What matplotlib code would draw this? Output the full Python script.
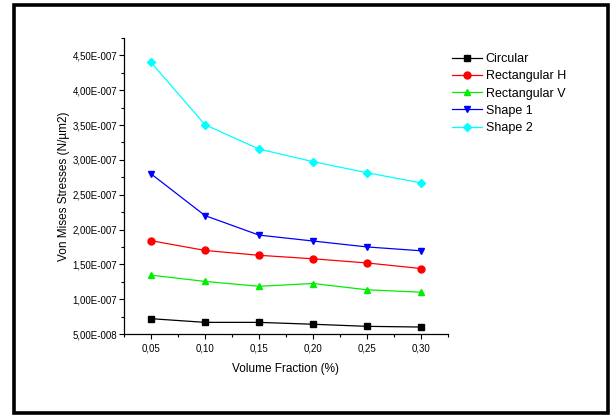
import matplotlib
matplotlib.use("Agg")
import matplotlib.pyplot as plt
from matplotlib.ticker import MultipleLocator, FuncFormatter
from matplotlib.patches import Rectangle

plt.rcParams['font.family'] = ['Liberation Sans', 'DejaVu Sans']

volume_fraction = [0.05, 0.10, 0.15, 0.20, 0.25, 0.30]
circular = [7.2e-8, 6.67e-8, 6.67e-8, 6.4e-8, 6.1e-8, 6.0e-8]
rect_h = [1.84e-7, 1.70e-7, 1.63e-7, 1.58e-7, 1.52e-7, 1.44e-7]
rect_v = [1.345e-7, 1.255e-7, 1.185e-7, 1.225e-7, 1.135e-7, 1.10e-7]
shape1 = [2.80e-7, 2.20e-7, 1.92e-7, 1.835e-7, 1.75e-7, 1.695e-7]
shape2 = [4.40e-7, 3.505e-7, 3.155e-7, 2.975e-7, 2.815e-7, 2.67e-7]

series = [
    ("Circular", circular, "#000000", "s"),
    ("Rectangular H", rect_h, "#FF0000", "o"),
    ("Rectangular V", rect_v, "#00EE00", "^"),
    ("Shape 1", shape1, "#0000FF", "v"),
    ("Shape 2", shape2, "#00FFFF", "D"),
]

fig = plt.figure(figsize=(6.1, 4.15), dpi=100)
ax = fig.add_axes([124/610, 1-334/415, (448-124)/610, (334-38)/415])

for label, vals, col, mk in series:
    ms = 4.5 if mk == "D" else 5
    ax.plot(volume_fraction, vals, color=col, marker=mk, markersize=ms,
            linewidth=0.9, label=label)

ax.set_xlim(0.025, 0.325)
ax.set_ylim(5e-8, 4.75e-7)
ax.xaxis.set_major_locator(MultipleLocator(0.05))
ax.xaxis.set_minor_locator(MultipleLocator(0.025))
ax.yaxis.set_major_locator(MultipleLocator(0.5e-7))
ax.yaxis.set_minor_locator(MultipleLocator(0.25e-7))

def yfmt(v, pos):
    s = "%.2E" % v
    mant, exp = s.split("E")
    e = int(exp)
    sign = "-" if e < 0 else "+"
    return "%sE%s%03d" % (mant.replace(".", ","), sign, abs(e))

def xfmt(v, pos):
    return ("%.2f" % v).replace(".", ",")

ax.yaxis.set_major_formatter(FuncFormatter(yfmt))
ax.xaxis.set_major_formatter(FuncFormatter(xfmt))

for s in ["top", "right"]:
    ax.spines[s].set_visible(False)
for s in ["left", "bottom"]:
    ax.spines[s].set_linewidth(0.9)

ax.tick_params(axis='both', which='major', direction='out', length=3.5,
               width=0.8, labelsize=7, pad=1.5)
ax.tick_params(axis='both', which='minor', direction='out', length=2,
               width=0.8)
ax.tick_params(axis='x', which='major', pad=3)

ax.set_xlabel("Volume Fraction (%)", fontsize=8.5, labelpad=7)
ax.set_ylabel("Von Mises Stresses (N/µm2)", fontsize=8.5, labelpad=1.5)

fig.legend(loc='upper left', bbox_to_anchor=(452/610, 1-53/415),
           frameon=False, fontsize=9, handlelength=2.4, handletextpad=0.3,
           labelspacing=0.42, borderpad=0, borderaxespad=0)

rect = Rectangle((14/610, 1-413/415), (608-14)/610, (413-5.5)/415,
                 transform=fig.transFigure, fill=False, edgecolor='black',
                 linewidth=2.6, clip_on=False)
fig.patches.append(rect)

fig.savefig("out.png", dpi=100)
